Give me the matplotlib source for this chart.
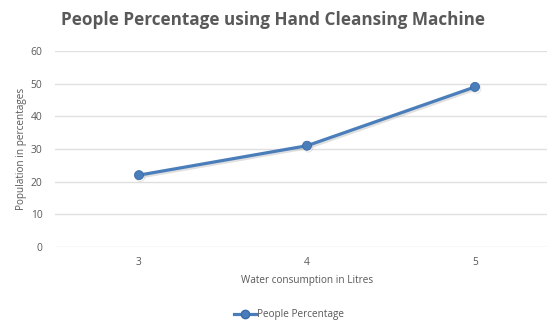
import matplotlib
matplotlib.use("Agg")
import matplotlib.pyplot as plt
import matplotlib.patheffects as pe
from matplotlib.lines import Line2D

litres = ["3", "4", "5"]
people_pct = [22, 31, 49]
y_ticks = [0, 10, 20, 30, 40, 50, 60]

W, H = 547, 320
fig = plt.figure(figsize=(W / 100, H / 100), dpi=100)
plt.rcParams['font.family'] = ['Open Sans', 'DejaVu Sans']

# plot area: left edge at 55px, category spacing ~168px (runs past right edge)
ax = fig.add_axes([55 / W, 73 / H, 504 / W, 196 / H])
ax.set_xlim(-0.5, 2.5)
ax.set_ylim(0, 60)

text_col = "#595959"
grid_col = "#e0e0e0"
line_col = "#4a7ebb"

for s in ax.spines.values():
    s.set_visible(False)
ax.set_yticks(y_ticks)
ax.yaxis.grid(True, color=grid_col, linewidth=1.0)
ax.set_axisbelow(True)
ax.tick_params(axis="both", length=0, labelsize=7.4, labelcolor=text_col)
ax.tick_params(axis="y", pad=9)
ax.tick_params(axis="x", pad=7)

x = list(range(len(litres)))
ax.plot(x, people_pct, color=line_col, linewidth=2.3, marker="o",
        markersize=6.5, markerfacecolor=line_col, markeredgecolor="#3a6aa8",
        markeredgewidth=0.6, solid_capstyle="round",
        path_effects=[pe.SimpleLineShadow(offset=(1.0, -1.3), shadow_color="#999999", alpha=0.3),
                      pe.Normal()])
ax.set_xticks(x)
ax.set_xticklabels(litres)

fig.text(273 / W, 1 - 20 / H, "People Percentage using Hand Cleansing Machine",
         ha="center", va="center", fontsize=12.3, fontweight="bold", color=text_col)
fig.text(22 / W, 1 - 149 / H, "Population in percentages", rotation=90,
         ha="center", va="center", fontsize=7.2, color=text_col)
fig.text(307 / W, 1 - 280 / H, "Water consumption in Litres",
         ha="center", va="center", fontsize=7.2, color=text_col)

handle = Line2D([], [], color=line_col, linewidth=2.3, marker="o", markersize=6,
                markerfacecolor=line_col, markeredgecolor="#3a6aa8")
fig.legend([handle], ["People Percentage"], loc="center", bbox_to_anchor=(289 / W, 1 - 315 / H),
           frameon=False, fontsize=7.2, labelcolor=text_col, handlelength=2.2,
           handletextpad=0.1)

fig.savefig("out.png", dpi=100)
